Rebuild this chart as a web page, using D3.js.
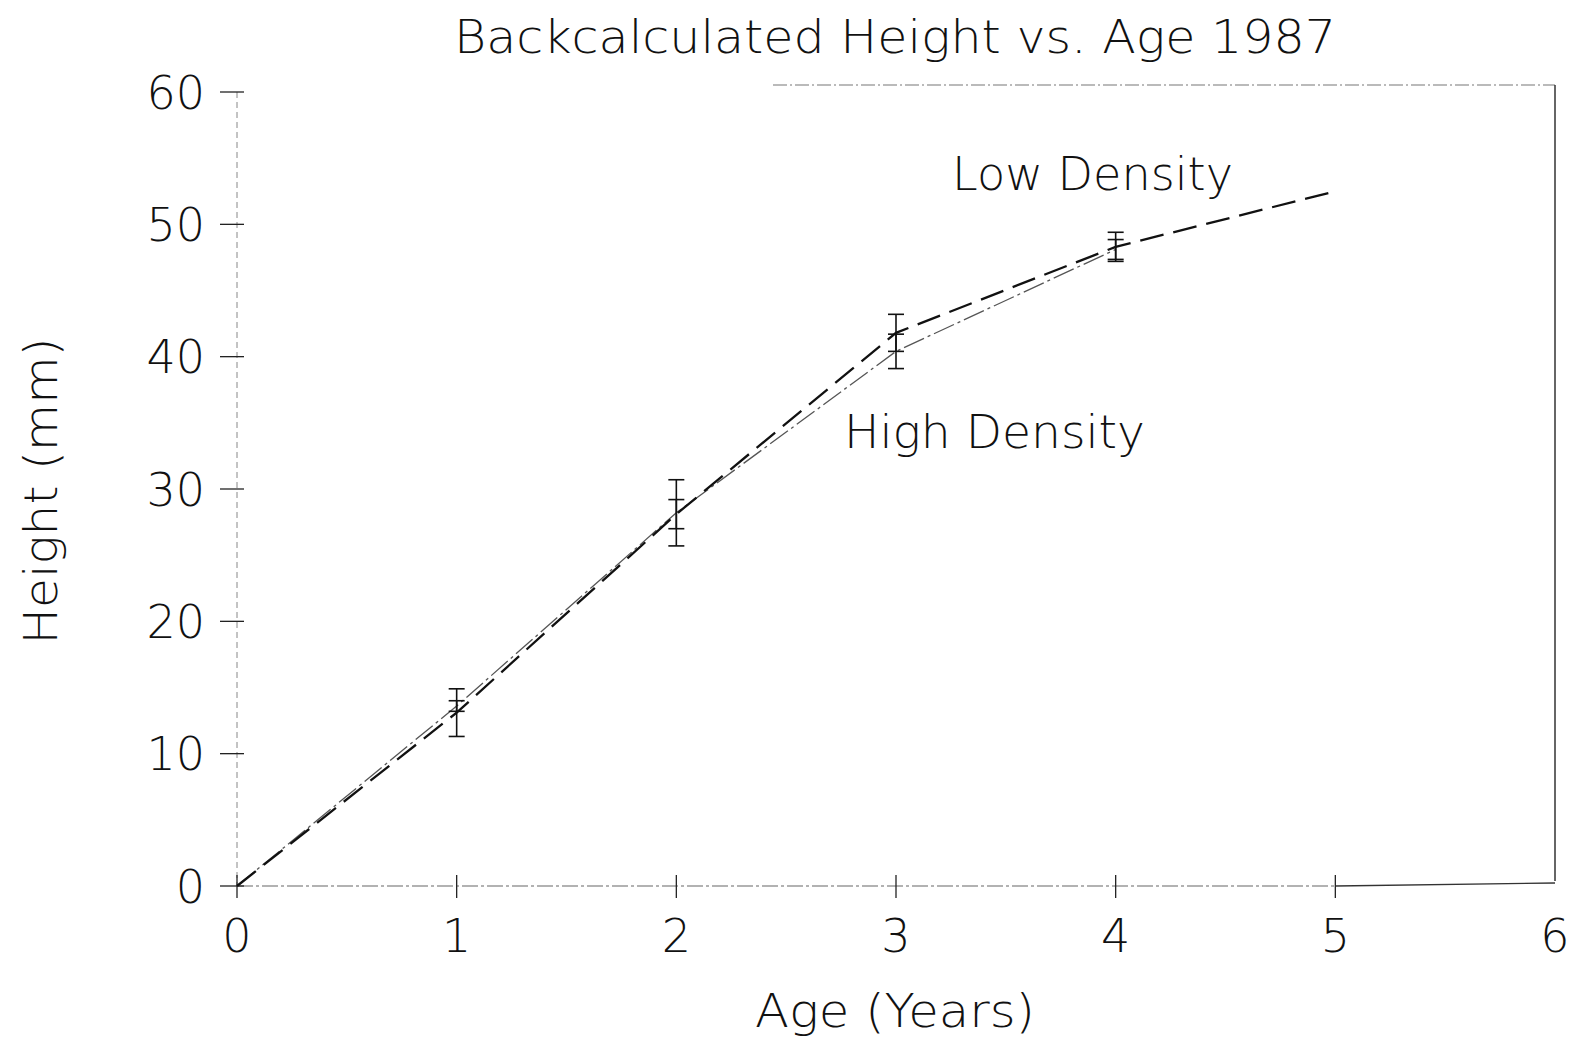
<!DOCTYPE html>
<html>
<head>
<meta charset="utf-8">
<title>Backcalculated Height vs. Age 1987</title>
<script src="https://d3js.org/d3.v7.min.js"></script>
<style>
  body { margin: 0; background: #fff; }
  text { font-family: "DejaVu Sans", sans-serif; font-weight: 200; fill: #111; }
</style>
</head>
<body>
<script>
// data
var ages = [0, 1, 2, 3, 4, 5];
var lowMean = [0, 13.1, 28.1, 41.8, 48.3, 52.5];
var lowErr = [0, 1.8, 1.1, 1.4, 1.1, 0];
var highAges = [0, 1, 2, 3, 4];
var highMean = [0, 13.6, 28.2, 40.4, 48.1];
var highErr = [0, 0.4, 2.5, 1.3, 0.75];
var xTicks = [0, 1, 2, 3, 4, 5, 6];
var yTicks = [0, 10, 20, 30, 40, 50, 60];

var width = 1575, height = 1045;
var svg = d3.select("body").append("svg")
  .attr("width", width).attr("height", height);

var x = d3.scaleLinear().domain([0, 6]).range([237, 1555]);
var y = d3.scaleLinear().domain([0, 60]).range([886, 92]);

// frame (top + right), partly faint like the scan
svg.append("line")
  .attr("x1", 773).attr("x2", x(6)).attr("y1", 85).attr("y2", 85)
  .attr("stroke", "#777").attr("stroke-width", 1.2).attr("stroke-dasharray", "14,3,2,3");
svg.append("line")
  .attr("x1", x(6)).attr("x2", x(6)).attr("y1", 85).attr("y2", y(0) - 5)
  .attr("stroke", "#333").attr("stroke-width", 1.5);

// axes lines
svg.append("line")
  .attr("x1", x(0)).attr("x2", x(0)).attr("y1", y(60)).attr("y2", y(0))
  .attr("stroke", "#888").attr("stroke-width", 1).attr("stroke-dasharray", "6,4");
svg.append("line")
  .attr("x1", x(0)).attr("x2", x(5)).attr("y1", y(0)).attr("y2", y(0))
  .attr("stroke", "#666").attr("stroke-width", 1.2).attr("stroke-dasharray", "16,3,3,3");
svg.append("line")
  .attr("x1", x(5)).attr("x2", x(6)).attr("y1", y(0)).attr("y2", y(0) - 3)
  .attr("stroke", "#333").attr("stroke-width", 1.3);

// y ticks
svg.append("g").selectAll("line").data(yTicks).enter().append("line")
  .attr("x1", x(0) - 17).attr("x2", x(0) + 7)
  .attr("y1", d => y(d)).attr("y2", d => y(d))
  .attr("stroke", "#222").attr("stroke-width", 1.3);
svg.append("g").selectAll("text").data(yTicks).enter().append("text")
  .attr("x", 205).attr("y", d => y(d) + 16.5)
  .attr("text-anchor", "end").attr("font-size", 46)
  .text(d => d);

// x ticks
svg.append("g").selectAll("line").data(xTicks.slice(0, 6)).enter().append("line")
  .attr("x1", d => x(d)).attr("x2", d => x(d))
  .attr("y1", y(0) - 11).attr("y2", y(0) + 12)
  .attr("stroke", "#222").attr("stroke-width", 1.3);
svg.append("g").selectAll("text").data(xTicks).enter().append("text")
  .attr("x", d => x(d)).attr("y", 952)
  .attr("text-anchor", "middle").attr("font-size", 46)
  .text(d => d);

// series
var low = ages.map((a, i) => ({ x: a, y: lowMean[i], e: lowErr[i] }));
var high = highAges.map((a, i) => ({ x: a, y: highMean[i], e: highErr[i] }));
var line = d3.line().x(d => x(d.x)).y(d => y(d.y));

svg.append("path").datum(high).attr("d", line)
  .attr("fill", "none").attr("stroke", "#555").attr("stroke-width", 1.3)
  .attr("stroke-dasharray", "22,4,3,4");
svg.append("path").datum(low).attr("d", line)
  .attr("fill", "none").attr("stroke", "#111").attr("stroke-width", 2.3)
  .attr("stroke-dasharray", "24,10");

// error bars
function errorBars(data) {
  var g = svg.append("g").attr("stroke", "#111").attr("stroke-width", 1.6);
  var pts = data.filter(d => d.e > 0);
  g.selectAll(".v").data(pts).enter().append("line")
    .attr("x1", d => x(d.x)).attr("x2", d => x(d.x))
    .attr("y1", d => y(d.y + d.e)).attr("y2", d => y(d.y - d.e));
  g.selectAll(".t").data(pts).enter().append("line")
    .attr("x1", d => x(d.x) - 8).attr("x2", d => x(d.x) + 8)
    .attr("y1", d => y(d.y + d.e)).attr("y2", d => y(d.y + d.e));
  g.selectAll(".b").data(pts).enter().append("line")
    .attr("x1", d => x(d.x) - 8).attr("x2", d => x(d.x) + 8)
    .attr("y1", d => y(d.y - d.e)).attr("y2", d => y(d.y - d.e));
}
errorBars(low);
errorBars(high);

// texts
function label(txt, xx, yy, len, size) {
  return svg.append("text").attr("x", xx).attr("y", yy)
    .attr("font-size", size).attr("textLength", len)
    .attr("lengthAdjust", "spacingAndGlyphs").text(txt);
}
label("Backcalculated Height vs. Age 1987", 454, 53, 882, 46);
label("Age (Years)", 755, 1027, 280, 46);
label("Low Density", 952, 190, 281, 46);
label("High Density", 844, 448, 301, 46);

svg.append("text")
  .attr("transform", "translate(57,491) rotate(-90)")
  .attr("text-anchor", "middle").attr("font-size", 46)
  .attr("textLength", 307).attr("lengthAdjust", "spacingAndGlyphs")
  .text("Height (mm)");
</script>
</body>
</html>
